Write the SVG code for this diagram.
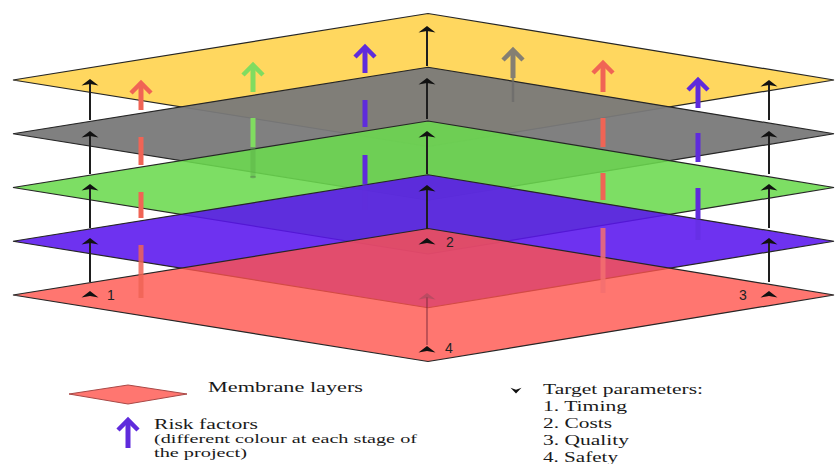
<svg xmlns="http://www.w3.org/2000/svg" width="835" height="464" viewBox="0 0 835 464">
<style>
.layer{stroke:#262626;stroke-width:1.2;stroke-linejoin:miter}
.shaft{stroke:#1e1e1e;stroke-width:2}
.risk{stroke-width:5;fill:none}
.rh{fill:none;stroke-width:4.5;stroke-linejoin:miter}
.num{font-family:"Liberation Sans",Arial,sans-serif;font-size:14px;fill:#222}
.lg{font-family:"Liberation Serif","Times New Roman",serif;font-size:15px;fill:#1a1a1a}
.lgs{font-family:"Liberation Serif","Times New Roman",serif;font-size:13px;fill:#1a1a1a}
</style>
<defs>
<path id="tp" d="M0,0 L8.5,6.5 L0,5 L-8.5,6.5 Z" fill="#111"/>
<path id="rh" d="M-10,10 L0,0 L10,10"/>
</defs>
<rect width="835" height="464" fill="#ffffff"/>

<g id="layer-yellow"><polygon class="layer" points="13,80 428,13.5 834,80 428,146.5" fill="#ffd75f"/></g>
<g id="layer-gray"><polygon class="layer" points="13,133.75 428,67.25 834,133.75 428,200.25" fill="#797979" fill-opacity="0.95"/></g>
<g id="layer-green"><polygon class="layer" points="13,187.5 428,121 834,187.5 428,254" fill="rgb(107,218,79)" fill-opacity="0.88"/></g>
<g id="layer-blue"><polygon class="layer" points="13,241.25 428,174.75 834,241.25 428,307.75" fill="rgb(90,22,238)" fill-opacity="0.88"/></g>
<g id="layer-red"><polygon class="layer" points="13,295 428,228.5 834,295 428,361.5" fill="rgb(255,84,76)" fill-opacity="0.8"/></g>

<g id="connectors">
  <g id="tp1">
    <line class="shaft" x1="90" y1="282" x2="90" y2="242"/>
    <line class="shaft" x1="90" y1="228" x2="90" y2="188"/>
    <line class="shaft" x1="90" y1="174" x2="90" y2="135"/>
    <line class="shaft" x1="90" y1="120" x2="90" y2="83"/>
    <use href="#tp" x="90" y="291"/>
    <use href="#tp" x="90" y="238"/>
    <use href="#tp" x="90" y="184"/>
    <use href="#tp" x="90" y="131"/>
    <use href="#tp" x="90" y="79"/>
  </g>
  <g id="tp2">
    <line class="shaft" x1="427" y1="229" x2="427" y2="189"/>
    <line class="shaft" x1="427" y1="174" x2="427" y2="135"/>
    <line class="shaft" x1="427" y1="119" x2="427" y2="82"/>
    <line class="shaft" x1="427" y1="66" x2="427" y2="30"/>
    <use href="#tp" x="427" y="238"/>
    <use href="#tp" x="427" y="185"/>
    <use href="#tp" x="427" y="131"/>
    <use href="#tp" x="427" y="78"/>
    <use href="#tp" x="427" y="26"/>
  </g>
  <g id="tp3">
    <line class="shaft" x1="769" y1="282" x2="769" y2="242"/>
    <line class="shaft" x1="769" y1="228" x2="769" y2="188"/>
    <line class="shaft" x1="769" y1="174" x2="769" y2="135"/>
    <line class="shaft" x1="769" y1="120" x2="769" y2="85"/>
    <use href="#tp" x="769" y="291"/>
    <use href="#tp" x="769" y="238"/>
    <use href="#tp" x="769" y="184"/>
    <use href="#tp" x="769" y="131"/>
    <use href="#tp" x="769" y="80"/>
  </g>
  <g id="tp4">
    <line x1="427" y1="345" x2="427" y2="297" stroke="#7a2c3c" stroke-width="1.6" stroke-opacity="0.6"/>
    <path d="M427,293 L435.5,299.5 L427,298 L418.5,299.5 Z" fill="#9a4a5a" fill-opacity="0.55"/>
    <use href="#tp" x="427" y="346"/>
  </g>

  <g id="risk-a" stroke="#f06455">
    <use href="#rh" class="rh" x="141" y="83"/>
    <line class="risk" x1="141" y1="85" x2="141" y2="110"/>
    <line class="risk" x1="141" y1="137" x2="141" y2="165"/>
    <line class="risk" x1="141" y1="192" x2="141" y2="218"/>
    <line class="risk" x1="141" y1="245" x2="141" y2="298" stroke-opacity="0.85"/>
  </g>
  <g id="risk-b" stroke="#80dc60">
    <use href="#rh" class="rh" x="253" y="65"/>
    <line class="risk" x1="253" y1="67" x2="253" y2="92"/>
    <line class="risk" x1="253" y1="118" x2="253" y2="147"/>
    <line class="risk" x1="253" y1="147" x2="253" y2="177" stroke="#5cb048" stroke-opacity="0.45"/>
    <ellipse cx="253" cy="177" rx="3" ry="1.3" fill="#5a8a50" stroke="none" fill-opacity="0.6"/>
  </g>
  <g id="risk-c" stroke="#5f2bdc">
    <use href="#rh" class="rh" x="365" y="47"/>
    <line class="risk" x1="365" y1="49" x2="365" y2="73"/>
    <line class="risk" x1="365" y1="100" x2="365" y2="127"/>
    <line class="risk" x1="365" y1="155" x2="365" y2="184"/>
    <line class="risk" x1="365" y1="184" x2="365" y2="210" stroke-opacity="0.5"/>
  </g>
  <g id="risk-d" stroke="#857f72">
    <use href="#rh" class="rh" x="513" y="50"/>
    <line class="risk" x1="513" y1="52" x2="513" y2="78"/>
    <line x1="513" y1="78" x2="513" y2="102" stroke="#6a6a68" stroke-width="2.5" stroke-opacity="0.7"/>
  </g>
  <g id="risk-e" stroke="#f06455">
    <use href="#rh" class="rh" x="603" y="63"/>
    <line class="risk" x1="603" y1="65" x2="603" y2="92"/>
    <line class="risk" x1="603" y1="118" x2="603" y2="147"/>
    <line class="risk" x1="603" y1="173" x2="603" y2="200"/>
    <line class="risk" x1="603" y1="228" x2="603" y2="293" stroke="#f37070" stroke-opacity="0.85"/>
  </g>
  <g id="risk-f" stroke="#5f2bdc">
    <use href="#rh" class="rh" x="698" y="80"/>
    <line class="risk" x1="698" y1="82" x2="698" y2="108"/>
    <line class="risk" x1="698" y1="133" x2="698" y2="162"/>
    <line class="risk" x1="698" y1="188" x2="698" y2="219"/>
    <line class="risk" x1="698" y1="219" x2="698" y2="240" stroke-opacity="0.5"/>
  </g>
</g>

<g id="labels">
  <text class="num" x="107" y="300">1</text>
  <text class="num" x="446" y="247">2</text>
  <text class="num" x="739" y="300">3</text>
  <text class="num" x="445" y="353">4</text>
</g>

<g id="legend-membrane">
  <polygon points="69,394 128,385 187,394 128,404" fill="#ff7670" stroke="#a84846" stroke-width="1"/>
  <text class="lg" x="208" y="392" textLength="155" lengthAdjust="spacingAndGlyphs">Membrane layers</text>
</g>
<g id="legend-risk">
  <line x1="128" y1="423" x2="128" y2="448" stroke="#5f2bdc" stroke-width="5"/>
  <use href="#rh" class="rh" x="128" y="420" stroke="#5f2bdc"/>
  <text class="lg" x="154" y="429" textLength="104" lengthAdjust="spacingAndGlyphs">Risk factors</text>
  <text class="lgs" x="154" y="443" textLength="263" lengthAdjust="spacingAndGlyphs">(different colour at each stage of</text>
  <text class="lgs" x="154" y="457" textLength="93" lengthAdjust="spacingAndGlyphs">the project)</text>
</g>
<g id="legend-target">
  <path d="M510.5,387.8 L516,389.8 L521.5,387.8 L516,393.5 Z" fill="#111"/>
  <text class="lg" x="543" y="394" textLength="160" lengthAdjust="spacingAndGlyphs">Target parameters:</text>
  <text class="lg" x="543" y="411" textLength="84" lengthAdjust="spacingAndGlyphs">1. Timing</text>
  <text class="lg" x="543" y="428" textLength="69" lengthAdjust="spacingAndGlyphs">2. Costs</text>
  <text class="lg" x="543" y="445" textLength="86" lengthAdjust="spacingAndGlyphs">3. Quality</text>
  <text class="lg" x="543" y="462" textLength="75" lengthAdjust="spacingAndGlyphs">4. Safety</text>
</g>
</svg>
